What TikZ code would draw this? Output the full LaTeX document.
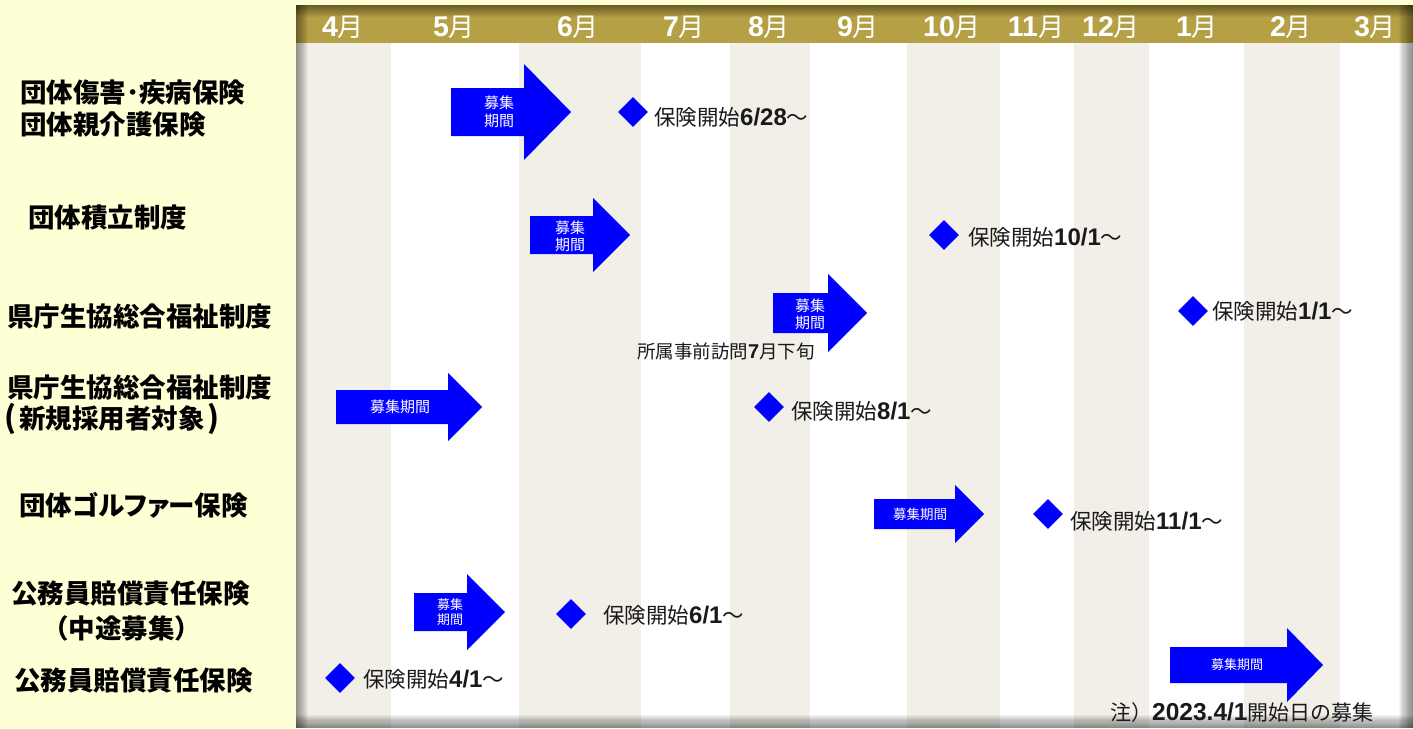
\documentclass[tikz,border=0pt]{standalone}
\usepackage{fontspec}
\newfontfamily\jp{Noto Sans CJK JP}
\newfontfamily\arialb{Liberation Sans}
\usetikzlibrary{shapes.geometric}
\definecolor{bgyellow}{HTML}{FFFFD5}
\definecolor{stripebeige}{HTML}{F2EFE9}
\definecolor{bandgold}{HTML}{B5A045}
\definecolor{arrowblue}{HTML}{0000FF}
\definecolor{inktext}{HTML}{1A1A1A}
\newcommand\numb[1]{{\arialb\bfseries\fontsize{24}{26}\selectfont #1}}
\newcommand\boshuarrow[6]{%
  \fill[arrowblue] (#1,#4-#5) -- (#2,#4-#5) -- (#2,#4-#6) -- (#3,#4) -- (#2,#4+#6) -- (#2,#4+#5) -- (#1,#4+#5) -- cycle;}
\begin{document}
\begin{tikzpicture}[x=1pt,y=-1pt,
  rowlabel/.style={anchor=west, inner sep=0pt, text=black, font=\jp\bfseries\fontsize{26.5}{30}\selectfont},
  monthlabel/.style={inner sep=0pt, text=white, font=\jp\fontsize{26}{28}\selectfont},
  startlabel/.style={anchor=west, inner sep=0pt, text=inktext, font=\jp\fontsize{21.5}{24}\selectfont},
  startmark/.style={diamond, fill=arrowblue, minimum size=30pt, inner sep=0pt},
  arrowtext/.style={inner sep=0pt, text=white, align=center}]
\useasboundingbox (0,0) rectangle (1413,728);
\fill[bgyellow] (0,0) rectangle (1413,728);
% panel and stripes
\fill[white] (296,5) rectangle (1413,728);
\foreach \a/\b in {296/391,519/641,730/810,907/1000,1074/1149,1244/1340}
  \fill[stripebeige] (\a,43) rectangle (\b,728);
\fill[bandgold] (296,5) rectangle (1413,43);
% edge shadows
\foreach \i in {1,...,12} {
  \fill[black,opacity=0.04] (296,5) rectangle (296+\i,728);
  \fill[black,opacity=0.04] (296,5) rectangle (1413,5+\i);
  \fill[black,opacity=0.045] (1413-\i*1.2,5) rectangle (1413,728);
  \fill[black,opacity=0.045] (296,728-\i*1.1) rectangle (1413,728);
}
% months
\node[monthlabel] (m4) at (343,27) {\numb{\fontsize{28.5}{28}\selectfont 4}月};
\node[monthlabel] (m5) at (454,27) {\numb{\fontsize{28.5}{28}\selectfont 5}月};
\node[monthlabel] (m6) at (578,27) {\numb{\fontsize{28.5}{28}\selectfont 6}月};
\node[monthlabel] (m7) at (684,27) {\numb{\fontsize{28.5}{28}\selectfont 7}月};
\node[monthlabel] (m8) at (769,27) {\numb{\fontsize{28.5}{28}\selectfont 8}月};
\node[monthlabel] (m9) at (858,27) {\numb{\fontsize{28.5}{28}\selectfont 9}月};
\node[monthlabel] (m10) at (952,27) {\numb{\fontsize{28.5}{28}\selectfont 10}月};
\node[monthlabel] (m11) at (1036,27) {\numb{\fontsize{28.5}{28}\selectfont 11}月};
\node[monthlabel] (m12) at (1111,27) {\numb{\fontsize{28.5}{28}\selectfont 12}月};
\node[monthlabel] (m1) at (1197,27) {\numb{\fontsize{28.5}{28}\selectfont 1}月};
\node[monthlabel] (m2) at (1291,27) {\numb{\fontsize{28.5}{28}\selectfont 2}月};
\node[monthlabel] (m3) at (1375,27) {\numb{\fontsize{28.5}{28}\selectfont 3}月};
% row labels
\node[rowlabel] (r1a) at (20,93) {団体傷害･疾病保険};
\node[rowlabel] (r1b) at (20,124) {団体親介護保険};
\node[rowlabel] (r2) at (28,217) {団体積立制度};
\node[rowlabel] (r3) at (7,316) {県庁生協総合福祉制度};
\node[rowlabel] (r4a) at (7,387) {県庁生協総合福祉制度};
\node[rowlabel] (r4b) at (2,419) {\makebox[17pt][c]{\fontsize{30}{30}\selectfont (}新規採用者対象\makebox[17pt][c]{\fontsize{30}{30}\selectfont )}};
\node[rowlabel] (r5) at (19,505) {\addfontfeatures{RawFeature=+palt}団体ゴルファー保険};
\node[rowlabel] (r6a) at (11,593) {公務員賠償責任保険};
\node[rowlabel] (r6b) at (42,628) {（中途募集）};
\node[rowlabel] (r7) at (14,680) {公務員賠償責任保険};
% recruitment arrows
\boshuarrow{451}{524}{571}{112}{24}{48}
\node[arrowtext, font=\jp\fontsize{15}{18}\selectfont] (a1) at (499,112) {募集\\期間};
\boshuarrow{530}{593}{630}{235}{19}{37}
\node[arrowtext, font=\jp\fontsize{15}{17}\selectfont] (a2) at (570,236) {募集\\期間};
\boshuarrow{773}{828}{867}{313}{20}{39}
\node[arrowtext, font=\jp\fontsize{15}{17}\selectfont] (a3) at (810,314) {募集\\期間};
\boshuarrow{336}{448}{482}{407}{17}{34}
\node[arrowtext, font=\jp\fontsize{15}{17}\selectfont] (a4) at (400,407) {募集期間};
\boshuarrow{414}{467}{505}{612}{19}{38}
\node[arrowtext, font=\jp\fontsize{13}{14.5}\selectfont] (a5) at (450,612) {募集\\期間};
\boshuarrow{874}{955}{984}{514}{15}{29}
\node[arrowtext, font=\jp\fontsize{13.5}{15}\selectfont] (a6) at (920,514) {募集期間};
\boshuarrow{1170}{1287}{1323}{665}{18}{37}
\node[arrowtext, font=\jp\fontsize{13}{15}\selectfont] (a7) at (1237,665) {募集期間};
% start marks
\node[startmark] (d1) at (633,112) {};
\node[startlabel] (s1) at (654,117) {保険開始\numb{6/28}〜};
\node[startmark] (d2) at (944,235) {};
\node[startlabel] (s2) at (968,237) {保険開始\numb{10/1}〜};
\node[startmark] (d3) at (1193,311) {};
\node[startlabel] (s3) at (1212,311) {保険開始\numb{1/1}〜};
\node[startmark] (d4) at (769,407) {};
\node[startlabel] (s4) at (791,411) {保険開始\numb{8/1}〜};
\node[startmark] (d5) at (1048,514) {};
\node[startlabel] (s5) at (1070,521) {保険開始\numb{11/1}〜};
\node[startmark] (d6) at (571,614) {};
\node[startlabel] (s6) at (603,615) {保険開始\numb{6/1}〜};
\node[startmark] (d7) at (340,678) {};
\node[startlabel] (s7) at (363,679) {保険開始\numb{4/1}〜};
% notes
\node[startlabel, font=\jp\fontsize{18.5}{20}\selectfont] (visit) at (637,351) {所属事前訪問{\arialb\bfseries\fontsize{20}{20}\selectfont 7}月下旬};
\node[startlabel, font=\jp\fontsize{21}{24}\selectfont] (note) at (1110,713) {注）{\arialb\bfseries\fontsize{24.5}{26}\selectfont 2023.4/1}開始日の募集};
\end{tikzpicture}
\end{document}
